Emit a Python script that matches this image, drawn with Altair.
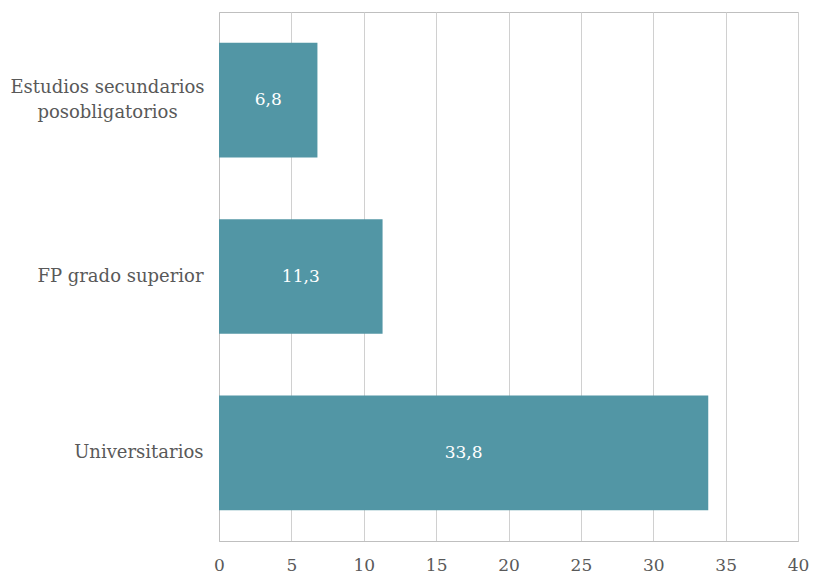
import altair as alt
import pandas as pd

categories = ["Estudios secundarios|posobligatorios", "FP grado superior", "Universitarios"]
values = [6.8, 11.3, 33.8]
labels = ["6,8", "11,3", "33,8"]

df = pd.DataFrame({"cat": categories, "value": values, "label": labels})

FONT = "DejaVu Serif"
GRAY = "#595959"
FS = 17
MULTI = "datum.value == 'Estudios secundarios|posobligatorios'"

y_enc = alt.Y(
    "cat:N",
    sort=categories,
    title=None,
    scale=alt.Scale(paddingInner=0.35, paddingOuter=0.175),
    axis=alt.Axis(
        labelExpr="split(datum.label, '|')",
        labelFont=FONT,
        labelFontSize=18,
        labelColor=GRAY,
        labelAlign={"condition": {"test": MULTI, "value": "center"}, "value": "right"},
        labelPadding={"condition": {"test": MULTI, "value": 112}, "value": 16},
        labelOffset={"condition": {"test": MULTI, "value": -12}, "value": 0},
        labelLineHeight=25,
        ticks=False,
        domain=True,
        domainColor="#BFBFBF",
        labelLimit=300,
    ),
)

bars = alt.Chart(df).mark_bar(color="#5296A5").encode(
    x=alt.X(
        "value:Q",
        title=None,
        scale=alt.Scale(domain=[0, 40], nice=False),
        axis=alt.Axis(
            values=[0, 5, 10, 15, 20, 25, 30, 35, 40],
            labelFont=FONT,
            labelFontSize=FS,
            labelColor=GRAY,
            labelPadding=16,
            ticks=False,
            domainColor="#BFBFBF",
            gridColor="#D0D0D0",
            grid=True,
            labelFlush=False,
        ),
    ),
    y=y_enc,
)

text = alt.Chart(df).transform_calculate(mid="datum.value / 2").mark_text(
    color="white", font=FONT, fontSize=FS, baseline="middle", align="center"
).encode(
    x=alt.X("mid:Q"),
    y=alt.Y("cat:N", sort=categories),
    text="label:N",
)

chart = (
    alt.layer(bars, text)
    .properties(
        width=579,
        height=529,
        autosize=alt.AutoSizeParams(type="none"),
        padding={"left": 211, "top": 4, "right": 11, "bottom": 32},
    )
    .configure_view(stroke="#BFBFBF", strokeWidth=1)
    .configure_axisY(grid=False)
)

chart.save("out.html", embed_options={"renderer": "svg", "actions": False})
